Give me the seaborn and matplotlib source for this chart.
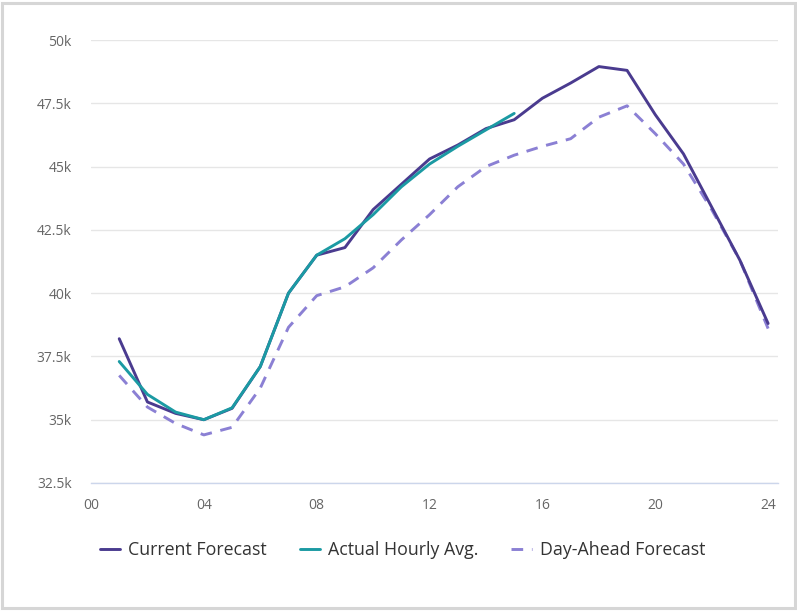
import pandas as pd
import matplotlib.pyplot as plt
import seaborn as sns
from matplotlib.patches import Rectangle
from matplotlib.ticker import FuncFormatter

# hourly load, thousands
hours = list(range(1, 25))
current_forecast = [38.2, 35.7, 35.25, 35.0, 35.45, 37.1, 40.0, 41.5, 41.8, 43.3,
                    44.3, 45.3, 45.85, 46.5, 46.85, 47.7, 48.3, 48.95, 48.8, 47.05,
                    45.5, 43.4, 41.3, 38.8]
actual_hours = list(range(1, 16))
actual_avg = [37.3, 36.0, 35.3, 35.0, 35.47, 37.1, 40.0, 41.5, 42.15, 43.1,
              44.2, 45.1, 45.8, 46.45, 47.1]
day_ahead = [36.75, 35.5, 34.85, 34.4, 34.7, 36.25, 38.65, 39.9, 40.25, 41.0,
             42.1, 43.1, 44.2, 45.0, 45.45, 45.8, 46.1, 46.95, 47.4, 46.3,
             45.1, 43.3, 41.3, 38.6]
x_ticks = [0, 4, 8, 12, 16, 20, 24]
x_labels = ["00", "04", "08", "12", "16", "20", "24"]
y_ticks = [32.5, 35, 37.5, 40, 42.5, 45, 47.5, 50]

sns.set_style("white")
plt.rcParams['font.family'] = ['Open Sans', 'DejaVu Sans']

df = pd.concat([
    pd.DataFrame({"hour": hours, "load": current_forecast, "series": "Current Forecast"}),
    pd.DataFrame({"hour": actual_hours, "load": actual_avg, "series": "Actual Hourly Avg."}),
    pd.DataFrame({"hour": hours, "load": day_ahead, "series": "Day-Ahead Forecast"}),
])
palette = {"Current Forecast": "#4a3b8f", "Actual Hourly Avg.": "#1b9aa3",
           "Day-Ahead Forecast": "#8b80d4"}

fig = plt.figure(figsize=(7.97, 6.13), dpi=100)
fig.patches.append(Rectangle((0.003, 0.008), 0.994, 0.987, transform=fig.transFigure,
                             fill=False, edgecolor="#d6d6d6", linewidth=2.2))
ax = fig.add_axes([91 / 797, 1 - 483 / 613, 687 / 797, 443 / 613])

for name in ["Day-Ahead Forecast", "Current Forecast", "Actual Hourly Avg."]:
    sub = df[df.series == name]
    sns.lineplot(data=sub, x="hour", y="load", ax=ax, color=palette[name],
                 linewidth=2.1, label=name,
                 linestyle=(0, (4, 3)) if name == "Day-Ahead Forecast" else "-")

ax.set_xlim(0, 24.35)
ax.set_ylim(32.5, 50)
ax.set_xticks(x_ticks)
ax.set_xticklabels(x_labels)
ax.set_yticks(y_ticks)
ax.yaxis.set_major_formatter(FuncFormatter(lambda v, p: ("%g" % v) + "k"))
ax.set(xlabel="", ylabel="")
ax.grid(axis="y", color="#e6e6e6", linewidth=1)
ax.set_axisbelow(True)
sns.despine(ax=ax, left=True, top=True, right=True)
ax.spines["bottom"].set_color("#ccd6eb")
ax.spines["bottom"].set_linewidth(1)
ax.tick_params(axis="x", length=8, color="#ccd6eb", labelcolor="#666666",
               labelsize=10, pad=3)
ax.tick_params(axis="y", length=0, labelcolor="#666666", labelsize=10, pad=14)

ax.get_legend().remove()
h, l = ax.get_legend_handles_labels()
order = [l.index(n) for n in ["Current Forecast", "Actual Hourly Avg.", "Day-Ahead Forecast"]]
fig.legend([h[i] for i in order], [l[i] for i in order], loc="center",
           bbox_to_anchor=(0.505, 1 - 550 / 613), ncol=3, frameon=False,
           fontsize=12.8, handlelength=1.15, columnspacing=1.85, handletextpad=0.45,
           labelcolor="#333333")

fig.savefig("out.png", dpi=100)
